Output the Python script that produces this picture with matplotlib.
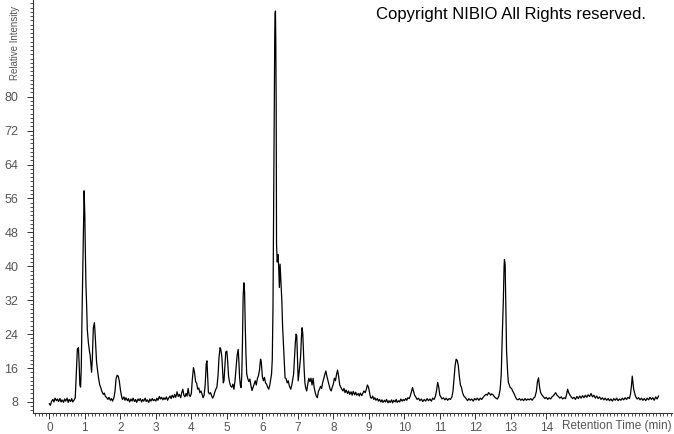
import matplotlib
matplotlib.use("Agg")
import matplotlib.pyplot as plt
from matplotlib.ticker import MultipleLocator, FixedLocator

times = [0.00, 0.03, 0.06, 0.10, 0.13, 0.16, 0.20, 0.23, 0.26, 0.30, 0.33, 0.36, 0.40, 0.43, 0.46, 0.50, 0.53, 0.56, 0.60, 0.63, 0.66, 0.70, 0.73,
         0.76, 0.79, 0.82, 0.84, 0.86, 0.88, 0.90, 0.92, 0.95, 0.98, 1.00, 1.01, 1.03, 1.05, 1.07, 1.10, 1.13, 1.15, 1.17, 1.19, 1.21, 1.24, 1.27, 1.29, 1.31, 1.33, 1.36, 1.39, 1.42, 1.45, 1.48, 1.52, 1.55, 1.58, 1.62, 1.65, 1.68, 1.72, 1.75, 1.78, 1.82, 1.85, 1.88, 1.91, 1.94, 1.97, 2.00, 2.03, 2.06,
         2.10, 2.13, 2.16, 2.20, 2.23, 2.26, 2.30, 2.33, 2.36, 2.40, 2.43, 2.46, 2.50, 2.53, 2.56, 2.60, 2.63, 2.66, 2.70, 2.73, 2.76, 2.80, 2.83, 2.86, 2.90, 2.93, 2.96, 3.00, 3.03, 3.06, 3.10, 3.13, 3.16, 3.20, 3.23, 3.26, 3.30, 3.33, 3.36, 3.40, 3.43, 3.46, 3.50, 3.53, 3.56, 3.60, 3.63, 3.66, 3.70, 3.73, 3.76, 3.79, 3.82, 3.85, 3.88, 3.91, 3.94, 3.97,
         4.00, 4.03, 4.06, 4.09, 4.12, 4.15, 4.18, 4.21, 4.24, 4.27, 4.30, 4.33, 4.36, 4.39, 4.42, 4.44, 4.46, 4.48, 4.51, 4.54, 4.57, 4.60, 4.63, 4.66, 4.69, 4.72, 4.75, 4.78, 4.81, 4.83, 4.86, 4.88, 4.90, 4.92, 4.95, 4.97, 5.00, 5.02, 5.05, 5.08, 5.11, 5.14, 5.17, 5.20, 5.23, 5.26, 5.29, 5.32, 5.34, 5.36, 5.38, 5.40, 5.42, 5.44, 5.46, 5.48, 5.50, 5.52, 5.54, 5.56, 5.59, 5.62, 5.65, 5.68, 5.71, 5.74, 5.77, 5.80, 5.83, 5.86, 5.89, 5.92, 5.95, 5.97,
         6.00, 6.03, 6.06, 6.09, 6.12, 6.15, 6.18, 6.21, 6.24, 6.26, 6.28, 6.30, 6.31, 6.33, 6.35, 6.36, 6.37, 6.38, 6.39, 6.40, 6.42, 6.44, 6.46, 6.48, 6.50, 6.52, 6.55, 6.57, 6.59, 6.62, 6.64, 6.67, 6.70, 6.73, 6.76, 6.80, 6.83, 6.85, 6.88, 6.90, 6.93, 6.95, 6.97, 6.99,
         7.01, 7.03, 7.05, 7.08, 7.10, 7.12, 7.14, 7.16, 7.18, 7.20, 7.22, 7.25, 7.28, 7.31, 7.34, 7.37, 7.40, 7.43, 7.46, 7.49, 7.52, 7.55, 7.58, 7.61, 7.64, 7.67, 7.70, 7.73, 7.76, 7.79, 7.82, 7.85, 7.88, 7.91, 7.94, 7.97,
         8.00, 8.03, 8.06, 8.09, 8.12, 8.15, 8.18, 8.21, 8.24, 8.27, 8.30, 8.33, 8.36, 8.40, 8.43, 8.46, 8.50, 8.53, 8.56, 8.60, 8.63, 8.66, 8.70, 8.73, 8.76, 8.80, 8.83, 8.86, 8.90, 8.93, 8.96, 8.99,
         9.02, 9.05, 9.08, 9.11, 9.14, 9.17, 9.20, 9.24, 9.27, 9.30, 9.34, 9.37, 9.40, 9.44, 9.47, 9.50, 9.54, 9.57, 9.60, 9.64, 9.67, 9.70, 9.74, 9.77, 9.80, 9.84, 9.87, 9.90, 9.94, 9.97,
         10.00, 10.04, 10.07, 10.10, 10.14, 10.17, 10.20, 10.23, 10.26, 10.29, 10.32, 10.36, 10.40, 10.44, 10.48, 10.52, 10.56, 10.60, 10.64, 10.68, 10.72, 10.76, 10.80, 10.84, 10.88, 10.91, 10.94, 10.97,
         11.00, 11.03, 11.06, 11.10, 11.14, 11.18, 11.22, 11.26, 11.30, 11.34, 11.37, 11.40, 11.43, 11.46, 11.49, 11.52, 11.55, 11.58, 11.61, 11.64, 11.67, 11.70, 11.74, 11.78, 11.82, 11.86, 11.90, 11.94, 11.98,
         12.02, 12.06, 12.10, 12.14, 12.18, 12.22, 12.26, 12.30, 12.34, 12.37, 12.40, 12.43, 12.46, 12.50, 12.54, 12.58, 12.62, 12.66, 12.70, 12.73, 12.76, 12.79, 12.81, 12.82, 12.84, 12.86, 12.88, 12.91, 12.93, 12.96, 12.98,
         13.02, 13.05, 13.09, 13.12, 13.16, 13.20, 13.24, 13.28, 13.32, 13.36, 13.40, 13.44, 13.48, 13.52, 13.56, 13.60, 13.64, 13.68, 13.72, 13.75, 13.78, 13.81, 13.84, 13.88, 13.92, 13.96,
         14.00, 14.04, 14.08, 14.12, 14.16, 14.20, 14.23, 14.26, 14.30, 14.34, 14.38, 14.42, 14.46, 14.50, 14.54, 14.57, 14.60, 14.63, 14.66, 14.70, 14.74, 14.78, 14.82, 14.86, 14.90, 14.94, 14.98,
         15.02, 15.06, 15.10, 15.14, 15.18, 15.22, 15.26, 15.30, 15.34, 15.38, 15.42, 15.46, 15.50, 15.54, 15.58, 15.62, 15.66, 15.70, 15.74, 15.78, 15.82, 15.86, 15.90, 15.94, 15.98,
         16.02, 16.06, 16.10, 16.14, 16.18, 16.22, 16.26, 16.30, 16.34, 16.37, 16.40, 16.42, 16.44, 16.46, 16.49, 16.52, 16.56, 16.60, 16.64, 16.68, 16.72, 16.76, 16.80, 16.84, 16.88, 16.92, 16.96,
         17.00, 17.04, 17.08, 17.12, 17.16]

intensity = [7.6, 7.2, 8.1, 8.6, 8.0, 8.9, 8.3, 8.7, 8.1, 8.8, 8.0, 8.5, 7.9, 8.7, 8.2, 8.9, 7.9, 8.6, 8.1, 8.8, 8.0, 8.5, 9.0,
             15.0, 20.5, 20.8, 17.0, 12.0, 11.5, 16.0, 28.0, 43.0, 57.8, 52.0, 46.0, 36.0, 31.0, 25.0, 22.0, 20.0, 19.0, 17.0, 15.0, 18.0, 25.5, 26.7, 24.0, 20.5, 17.5, 15.3, 13.5, 12.0, 11.4, 10.5, 9.8, 10.1, 9.3, 9.0, 8.6, 9.1, 8.4, 8.8, 8.2, 9.0, 10.5, 13.5, 14.3, 14.1, 13.0, 11.0, 9.5, 8.6,
             9.2, 8.4, 9.0, 8.3, 8.8, 8.0, 8.7, 8.2, 8.9, 8.1, 8.6, 7.9, 8.7, 8.3, 8.8, 8.0, 8.6, 8.2, 8.9, 8.1, 8.5, 7.9, 8.7, 8.2, 8.8, 8.3, 8.6, 8.2, 8.9, 8.4, 9.3, 8.7, 9.1, 8.5, 9.0, 8.6, 9.2, 8.4, 8.9, 9.4, 8.8, 9.6, 9.0, 9.8, 9.1, 10.4, 9.3, 9.8, 9.0, 10.2, 11.0, 9.6, 9.2, 10.0, 9.4, 11.2, 9.6, 9.3,
             10.0, 13.5, 16.1, 15.0, 12.8, 12.4, 11.0, 11.3, 10.2, 10.6, 9.9, 9.0, 9.6, 12.0, 17.0, 17.7, 14.0, 10.3, 9.9, 10.2, 9.5, 8.9, 9.4, 10.3, 11.0, 11.5, 14.0, 18.5, 20.8, 20.4, 18.6, 15.3, 12.5, 13.0, 17.0, 19.8, 20.0, 18.0, 14.0, 12.5, 11.7, 11.5, 12.2, 11.0, 13.0, 16.0, 19.0, 20.4, 17.5, 13.8, 12.0, 11.4, 14.0, 22.0, 33.0, 36.1, 34.0, 25.5, 19.0, 14.6, 13.5, 12.8, 13.4, 11.8, 10.7, 11.5, 12.2, 13.0, 12.0, 13.5, 14.2, 15.5, 18.1, 17.5,
             14.0, 13.0, 13.8, 12.5, 12.2, 11.5, 11.0, 12.0, 13.5, 14.6, 18.0, 30.0, 43.6, 70.0, 94.7, 99.5, 100.2, 92.0, 78.3, 45.2, 41.0, 42.8, 40.0, 35.0, 40.5, 37.0, 31.8, 26.0, 22.4, 17.0, 13.7, 13.5, 12.5, 13.0, 11.8, 11.0, 12.0, 13.0, 14.5, 17.7, 22.0, 24.0, 23.6, 18.0,
             13.0, 14.5, 16.1, 19.0, 23.0, 25.5, 24.0, 19.3, 15.3, 12.5, 11.4, 10.6, 12.2, 13.6, 12.8, 13.6, 12.0, 13.6, 11.4, 10.2, 9.4, 9.0, 10.5, 11.0, 11.7, 11.2, 12.6, 13.5, 14.5, 15.3, 14.0, 13.0, 12.0, 11.0, 10.6, 11.5,
             12.2, 13.6, 13.0, 14.5, 15.5, 14.0, 12.0, 11.5, 11.0, 10.6, 11.2, 10.2, 10.8, 10.0, 10.6, 9.8, 10.4, 9.6, 10.5, 9.7, 10.3, 9.6, 10.0, 9.4, 10.1, 9.5, 10.0, 10.6, 10.2, 11.0, 12.0, 11.5,
             10.2, 9.0, 8.9, 9.4, 8.6, 9.0, 8.4, 8.8, 8.2, 8.6, 8.0, 8.5, 7.9, 8.4, 8.0, 8.6, 7.8, 8.3, 7.9, 8.5, 7.8, 8.4, 8.0, 8.6, 7.9, 8.3, 8.0, 8.7, 8.2, 8.6,
             8.3, 8.8, 8.4, 9.0, 8.8, 9.5, 10.4, 11.4, 10.5, 9.6, 9.2, 8.6, 8.9, 8.3, 8.7, 8.1, 8.6, 8.2, 8.8, 8.3, 8.7, 8.2, 8.9, 8.6, 9.5, 10.8, 12.6, 11.5,
             9.6, 9.2, 8.7, 9.0, 8.5, 8.9, 8.4, 8.8, 8.6, 9.2, 10.5, 13.5, 16.5, 18.1, 17.8, 16.6, 14.0, 12.0, 11.4, 10.2, 9.5, 9.2, 8.8, 8.3, 8.8, 8.4, 8.7, 8.2, 8.8,
             8.5, 8.9, 8.4, 8.9, 8.6, 9.1, 9.5, 9.8, 9.6, 10.2, 10.0, 9.6, 9.9, 9.7, 9.2, 8.9, 8.7, 9.3, 11.0, 14.6, 24.0, 32.2, 40.0, 41.6, 40.4, 30.2, 20.0, 15.0, 12.6, 12.0, 11.4,
             11.2, 10.6, 10.0, 9.4, 8.7, 8.5, 8.8, 8.4, 8.7, 8.3, 8.8, 8.4, 8.7, 8.5, 8.8, 8.4, 8.9, 9.2, 10.5, 12.8, 13.7, 11.5, 10.2, 9.6, 9.2, 8.8,
             9.1, 8.6, 9.0, 8.7, 9.2, 9.5, 9.8, 10.2, 9.6, 9.3, 8.9, 9.2, 8.7, 9.0, 8.8, 9.8, 11.0, 10.2, 9.7, 9.2, 8.8, 9.1, 8.6, 9.3, 8.8, 9.4, 8.9,
             9.5, 9.0, 9.6, 9.1, 9.7, 9.3, 10.0, 9.2, 9.6, 8.9, 9.4, 8.8, 9.2, 8.6, 9.0, 8.5, 8.9, 8.4, 8.8, 8.3, 8.7, 8.2, 8.8, 8.4, 8.9,
             8.3, 8.7, 8.4, 8.9, 8.5, 9.0, 8.6, 9.1, 8.8, 9.8, 12.0, 14.1, 12.5, 11.0, 10.0, 9.2, 8.7, 9.0, 8.5, 8.9, 8.4, 8.8, 8.3, 8.9, 8.5, 9.1, 8.6,
             9.0, 8.4, 9.2, 8.7, 9.4]

x_major = list(range(0, 15))
y_major = [8, 16, 24, 32, 40, 48, 56, 64, 72, 80]

FONT = ["Liberation Sans", "DejaVu Sans"]
TICK_COLOR = "#555555"

fig = plt.figure(figsize=(6.74, 4.34), dpi=100)
ax = fig.add_axes([33 / 674, 21 / 434, 639 / 674, 413 / 434])
ax.plot(times, intensity, color="black", linewidth=0.9)

ax.set_xlim(-0.46, 17.54)
ax.set_ylim(5.4, 102.8)

for s in ("top", "right"):
    ax.spines[s].set_visible(False)
for s in ("left", "bottom"):
    ax.spines[s].set_color("#333333")
    ax.spines[s].set_linewidth(0.8)

ax.xaxis.set_major_locator(FixedLocator(x_major))
ax.xaxis.set_minor_locator(MultipleLocator(0.1))
ax.yaxis.set_major_locator(FixedLocator(y_major))
ax.yaxis.set_minor_locator(MultipleLocator(1.0))
ax.set_xticklabels([str(v) for v in x_major])
ax.set_yticklabels([str(v) for v in y_major])

ax.tick_params(axis="both", which="major", length=4, width=0.7, color="#333333",
               labelsize=9, labelcolor=TICK_COLOR)
ax.tick_params(axis="both", which="minor", length=2.5, width=0.6, color="#333333")
ax.tick_params(axis="x", which="major", pad=2.5, labelsize=8.5)
ax.tick_params(axis="y", which="major", pad=6.5)
for lab in ax.get_xticklabels() + ax.get_yticklabels():
    lab.set_family(FONT)

fig.text(672 / 674, 2 / 434, "Retention Time (min)", ha="right", va="bottom",
         fontsize=8.5, color=TICK_COLOR, family=FONT)
fig.text(15 / 674, (434 - 80) / 434, "Relative Intensity", rotation=90,
         ha="center", va="bottom", fontsize=7.0, color=TICK_COLOR, family=FONT)
fig.text(376 / 674, (434 - 14) / 434, "Copyright NIBIO All Rights reserved.",
         ha="left", va="center", fontsize=12, color="black", family=FONT)

fig.savefig("out.png", dpi=100)
